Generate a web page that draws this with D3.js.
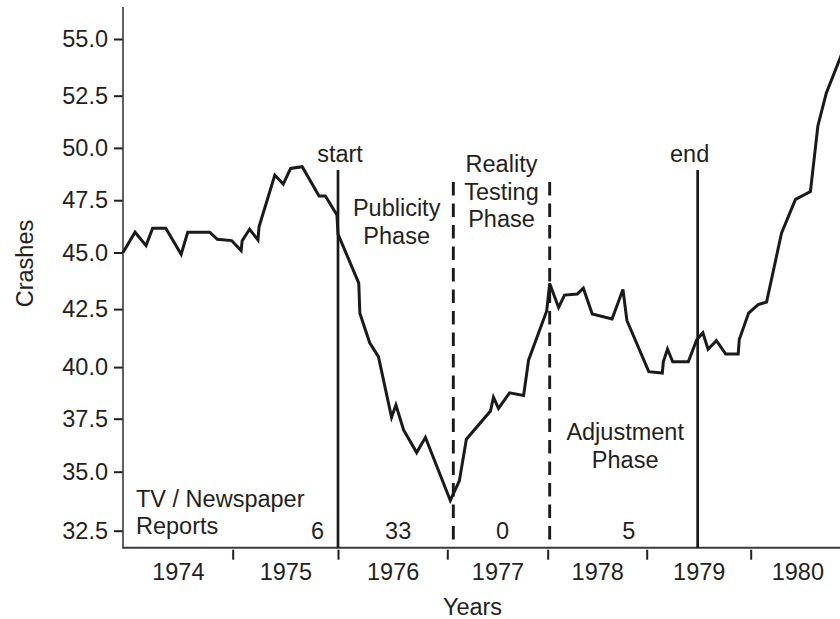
<!DOCTYPE html>
<html>
<head>
<meta charset="utf-8">
<script src="https://cdn.jsdelivr.net/npm/d3@7"></script>
<style>
  html, body { margin: 0; padding: 0; background: #fff; }
  svg { display: block; }
  text { font-family: "Liberation Sans", Arial, Helvetica, sans-serif; fill: #231f20; }
</style>
</head>
<body>
<svg id="chart" width="840" height="619"></svg>
<script>
// ---- data ---------------------------------------------------------------
// Observation times (decimal years) and crash counts
const time = [
  1974.00, 1974.11, 1974.21, 1974.27, 1974.39, 1974.53, 1974.59, 1974.79, 1974.86, 1974.99,
  1975.08, 1975.09, 1975.16, 1975.24, 1975.25, 1975.40, 1975.48, 1975.55, 1975.66, 1975.82, 1975.88, 1975.99,
  1976.00, 1976.19, 1976.20, 1976.29, 1976.37, 1976.49, 1976.53, 1976.60, 1976.72, 1976.80,
  1977.03, 1977.12, 1977.19, 1977.43, 1977.46, 1977.51, 1977.62, 1977.76, 1977.81, 1977.99,
  1978.02, 1978.11, 1978.17, 1978.30, 1978.36, 1978.45, 1978.65, 1978.76, 1978.80,
  1979.02, 1979.15, 1979.16, 1979.20, 1979.25, 1979.40, 1979.48, 1979.54, 1979.59, 1979.67, 1979.76, 1979.88, 1979.89, 1979.98,
  1980.08, 1980.17, 1980.33, 1980.48, 1980.64, 1980.72, 1980.81, 1980.95, 1980.98
];
const crashes = [
  45.00, 45.97, 45.33, 46.16, 46.16, 44.92, 45.97, 45.97, 45.63, 45.57,
  45.09, 45.56, 46.11, 45.60, 46.23, 48.70, 48.27, 49.02, 49.10, 47.70, 47.70, 46.79,
  45.88, 43.65, 42.32, 41.05, 40.45, 37.57, 38.16, 36.97, 35.90, 36.62,
  33.78, 34.61, 36.53, 37.87, 38.54, 38.00, 38.75, 38.62, 40.31, 42.42,
  43.63, 42.57, 43.12, 43.17, 43.42, 42.29, 42.07, 43.37, 42.01,
  39.78, 39.71, 40.23, 40.78, 40.23, 40.23, 41.17, 41.48, 40.77, 41.14, 40.56, 40.56, 41.19, 42.33,
  42.70, 42.81, 45.92, 47.54, 47.91, 51.05, 52.61, 54.07, 54.38
];

// Year boundaries and labels for the time axis
const yearBounds = [1974, 1975, 1976, 1977, 1978, 1979, 1980, 1981];
const yearLabels = [1974, 1975, 1976, 1977, 1978, 1979, 1980];

// Crash axis ticks
const yTicks = [32.5, 35.0, 37.5, 40.0, 42.5, 45.0, 47.5, 50.0, 52.5, 55.0];

// Campaign phase boundaries (decimal years)
const phaseTimes = [1976.00, 1977.06, 1978.02, 1979.49];
const phaseStyles = ["solid", "dashed", "dashed", "solid"];
const phaseEndLabels = ["start", "", "", "end"];

// Number of TV / newspaper reports per period
const reportCounts = [6, 33, 0, 5];

// ---- scales -------------------------------------------------------------
const svg = d3.select("#chart");

// piecewise-linear scales following the hand-drawn axis spacing
const x = d3.scaleLinear()
  .domain(yearBounds)
  .range([123, 232.7, 338, 447.3, 547.7, 646.7, 750.7, 844]);

const y = d3.scaleLinear()
  .domain(yTicks)
  .range([530.7, 471.7, 418.7, 367.1, 309.1, 252.5, 200.2, 147.9, 95.7, 39]);

const axisLeftX = 123, axisBottomY = 547.7, axisTopY = 7;
const FS = 23.5;

// ---- axes ---------------------------------------------------------------
// y axis
const gy = svg.append("g")
  .attr("transform", `translate(${axisLeftX},0)`)
  .call(d3.axisLeft(y).tickValues(yTicks).tickSize(9).tickPadding(6)
        .tickFormat(d3.format(".1f")));
gy.select(".domain").remove();
gy.attr("font-size", null).attr("font-family", null);
gy.selectAll(".tick line").attr("stroke", "#231f20").attr("stroke-width", 2);
gy.selectAll(".tick text").style("font-size", FS + "px").attr("fill", "#231f20");

svg.append("line")
  .attr("x1", axisLeftX).attr("x2", axisLeftX)
  .attr("y1", axisTopY).attr("y2", axisBottomY + 1)
  .attr("stroke", "#3a3a3a").attr("stroke-width", 1.6);

// x axis line
svg.append("line")
  .attr("x1", axisLeftX).attr("x2", 840)
  .attr("y1", axisBottomY).attr("y2", axisBottomY)
  .attr("stroke", "#3a3a3a").attr("stroke-width", 2);

// year boundary ticks
const gxTicks = svg.append("g")
  .attr("transform", `translate(0,${axisBottomY + 2})`)
  .call(d3.axisBottom(x).tickValues(yearBounds.slice(1, -1)).tickSize(10).tickFormat(""));
gxTicks.select(".domain").remove();
gxTicks.selectAll(".tick line").attr("stroke", "#231f20").attr("stroke-width", 2);

// year labels centred in each year
const gxLabels = svg.append("g")
  .attr("transform", `translate(0,${axisBottomY})`)
  .call(d3.axisBottom(x).tickValues(yearLabels.map(d => d + 0.5)).tickSize(0).tickPadding(15.6)
        .tickFormat((d) => String(Math.floor(d))));
gxLabels.select(".domain").remove();
gxLabels.attr("font-size", null).attr("font-family", null);
gxLabels.selectAll(".tick text").style("font-size", FS + "px").attr("fill", "#231f20");

// axis titles
svg.append("text")
  .attr("transform", `translate(33,263.5) rotate(-90)`)
  .attr("text-anchor", "middle")
  .style("font-size", FS + "px")
  .text("Crashes");

svg.append("text")
  .attr("x", 472.5).attr("y", 615)
  .attr("text-anchor", "middle")
  .style("font-size", FS + "px")
  .text("Years");

// ---- phase boundaries ---------------------------------------------------
phaseTimes.forEach((t, i) => {
  const dashed = phaseStyles[i] === "dashed";
  svg.append("line")
    .attr("x1", x(t)).attr("x2", x(t))
    .attr("y1", dashed ? 182 : 170).attr("y2", axisBottomY)
    .attr("stroke", "#1a1a1a")
    .attr("stroke-width", dashed ? 2.9 : 2.7)
    .attr("stroke-dasharray", dashed ? "13.5,8" : null);
  if (phaseEndLabels[i]) {
    svg.append("text")
      .attr("x", x(t) + (i === 0 ? 2 : -8)).attr("y", 161.5)
      .attr("text-anchor", "middle")
      .style("font-size", FS + "px")
      .text(phaseEndLabels[i]);
  }
});

// phase names
function multiline(cx, baseY, lines) {
  const t = svg.append("text")
    .attr("text-anchor", "middle")
    .style("font-size", FS + "px");
  lines.forEach((s, k) => {
    t.append("tspan").attr("x", cx).attr("y", baseY + k * 27.8).text(s);
  });
}
const mid = (a, b) => (x(a) + x(b)) / 2;
multiline(mid(phaseTimes[0], phaseTimes[1]) + 1, 216, ["Publicity", "Phase"]);
multiline(mid(phaseTimes[1], phaseTimes[2]), 171.7, ["Reality", "Testing", "Phase"]);
multiline(mid(phaseTimes[2], phaseTimes[3]) + 1.5, 440, ["Adjustment", "Phase"]);

// media report counts
const tv = svg.append("text").style("font-size", FS + "px");
tv.append("tspan").attr("x", 136).attr("y", 506.7).text("TV / Newspaper");
tv.append("tspan").attr("x", 136).attr("y", 534).text("Reports");

const countX = [
  x(phaseTimes[0]) - 20.5,
  mid(phaseTimes[0], phaseTimes[1]) + 2.5,
  mid(phaseTimes[1], phaseTimes[2]) + 1,
  mid(phaseTimes[2], phaseTimes[3]) + 5
];
reportCounts.forEach((c, i) => {
  svg.append("text")
    .attr("x", countX[i]).attr("y", 538.5)
    .attr("text-anchor", "middle")
    .style("font-size", FS + "px")
    .text(c);
});

// ---- crash series -------------------------------------------------------
const series = time.map((t, i) => ({ t, v: crashes[i] }));
svg.append("path")
  .datum(series)
  .attr("fill", "none")
  .attr("stroke", "#1a1a1a")
  .attr("stroke-width", 3)
  .attr("stroke-linejoin", "miter")
  .attr("stroke-miterlimit", 4)
  .attr("d", d3.line().x(d => x(d.t)).y(d => y(d.v)));
</script>
</body>
</html>
